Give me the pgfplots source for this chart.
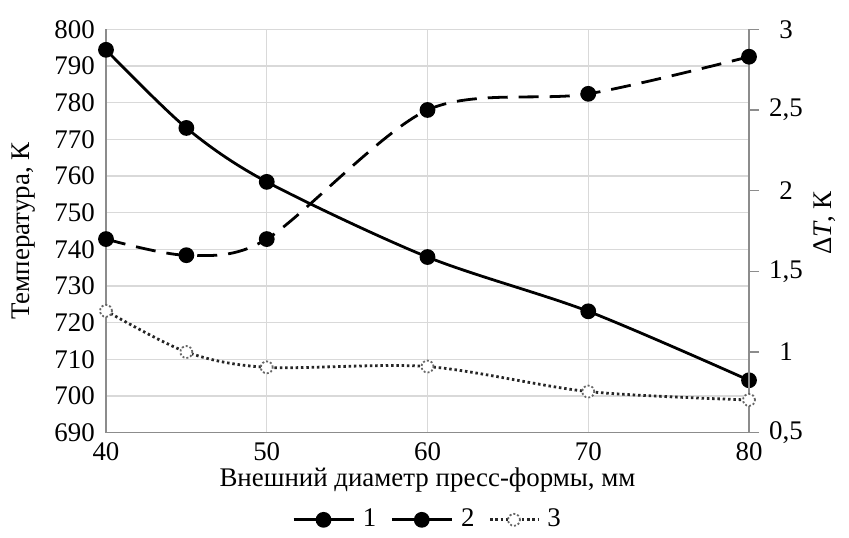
\documentclass[border=0pt]{standalone}
\usepackage{pgfplots}
\pgfplotsset{compat=1.18}
\usepackage{fontspec}
\setmainfont{Liberation Serif}
\definecolor{gridc}{HTML}{D9D9D9}
\definecolor{axc}{HTML}{8C8C8C}
\begin{document}
\fontsize{27}{31}\selectfont
\begin{tikzpicture}
\path[use as bounding box] (-106bp,-105.3bp) rectangle (743bp,432.7bp);
\pgfplotsset{
  s1/.style={black, line width=2.8pt, smooth, tension=0.5, mark=*, mark size=6.5pt, mark options={solid, fill=black}},
  s2/.style={black, line width=2.8pt, smooth, tension=0.5, dash pattern=on 20bp off 11bp, mark=*, mark size=6.5pt, mark options={solid, fill=black}},
  s3/.style={black!85, line width=2.8pt, smooth, tension=0.5, dash pattern=on 2.5bp off 2.8bp, mark=*, mark size=6pt, mark options={fill=white, draw=black!60, line width=1.8pt, dash pattern=on 2bp off 2bp}},
}
\begin{axis}[
  at={(0,0)}, anchor=origin,
  scale only axis, width=643bp, height=403.4bp,
  xmin=40, xmax=80, ymin=690, ymax=800,
  xtick={40,50,60,70,80}, ytick={690,700,...,800},
  axis y line*=left, axis x line*=bottom,
  axis line style={axc, line width=1.5pt},
  major tick length=0pt,
  grid=major, grid style={gridc, line width=1.2pt},
  /pgf/number format/assume math mode=true,
  ticklabel style={font=\fontsize{27}{31}\selectfont},
  xticklabel style={inner sep=0pt, yshift=-10bp},
  yticklabel style={xshift=-2bp},
  xlabel={Внешний диаметр пресс-формы, мм},
  ylabel={Температура, К},
  label style={font=\fontsize{27}{31}\selectfont},
  xlabel style={at={(0.5,-0.117)}, anchor=center, inner sep=0pt},
  ylabel style={at={(-0.128,0.5)}, anchor=center},
]
\addplot[s1] coordinates {(40,794.4) (45,773.1) (50,758.4) (60,737.9) (70,723.1) (80,704.3)};
\end{axis}
\begin{axis}[
  at={(0,0)}, anchor=origin,
  scale only axis, width=643bp, height=403.4bp,
  xmin=40, xmax=80, ymin=0.5, ymax=3,
  ytick={0.5,1,...,3},
  axis y line*=right, axis x line=none,
  axis line style={axc, line width=1.5pt},
  y axis line style={axc, line width=1.5pt},
  tick style={axc, line width=1.5pt},
  major tick length=10bp, tick align=outside,
  /pgf/number format/assume math mode=true,
  /pgf/number format/use comma,
  ticklabel style={font=\fontsize{27}{31}\selectfont},
  yticklabel style={anchor=center, xshift=27bp},
  ylabel={Δ\textit{T}, К},
  label style={font=\fontsize{27}{31}\selectfont},
  ylabel style={at={(1.118,0.52)}, anchor=center},
  legend columns=3,
  legend style={draw=none, fill=none, at={(0.5,-0.216)}, anchor=center,
    font=\fontsize{27}{31}\selectfont, column sep=6bp,
    /tikz/every even column/.append style={column sep=12bp}},
  legend cell align=left,
]
\addlegendimage{s1, sharp plot, legend image code/.code={\draw[mark repeat=2,mark phase=2] plot coordinates {(0bp,0bp) (30bp,0bp) (60bp,0bp)};}}
\addlegendentry{1}
\addplot[s2, legend image code/.code={\draw[solid, mark repeat=2,mark phase=2] plot coordinates {(0bp,0bp) (30bp,0bp) (60bp,0bp)};}] coordinates {(40,1.70) (45,1.60) (50,1.70) (60,2.50) (70,2.60) (80,2.83)};
\addlegendentry{2}
\addplot[s3, legend image code/.code={\draw[mark repeat=2,mark phase=2] plot coordinates {(0bp,0bp) (24bp,0bp) (48bp,0bp)};}] coordinates {(40,1.255) (45,1.00) (50,0.905) (60,0.91) (70,0.755) (80,0.703)};
\addlegendentry{3}
\end{axis}
\end{tikzpicture}
\end{document}
